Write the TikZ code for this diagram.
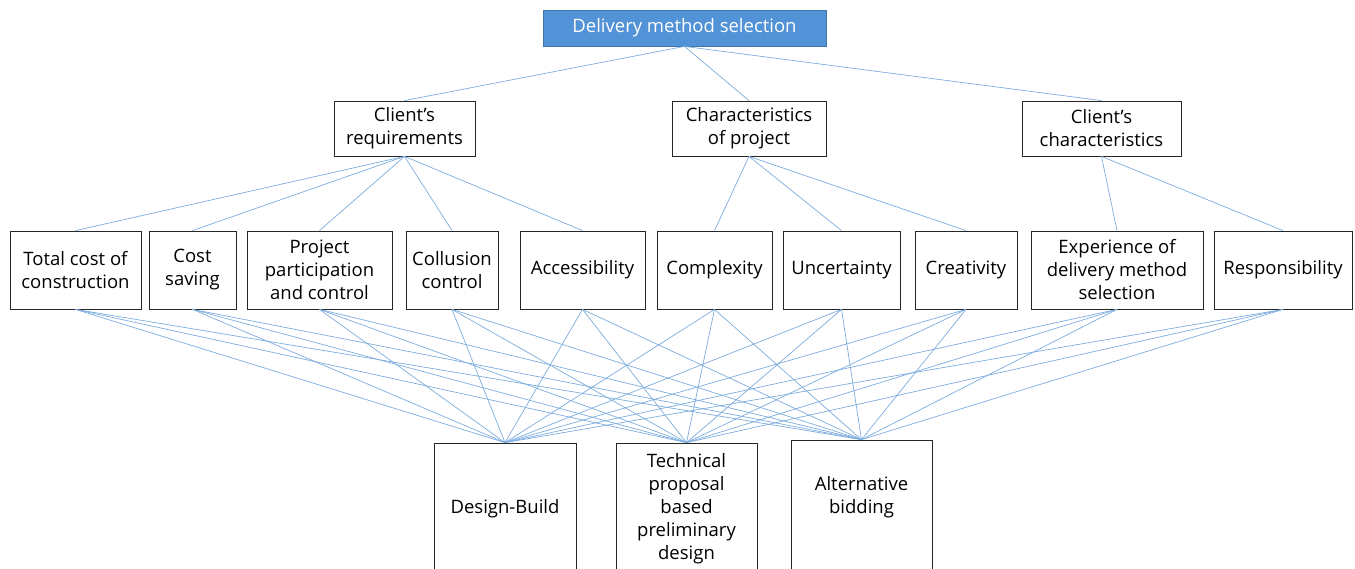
\documentclass[tikz,border=0pt]{standalone}
\usepackage{fontspec}
\setmainfont{Open Sans}
\usepackage{tikz}

\definecolor{linkblue}{RGB}{125,172,222}
\definecolor{headblue}{RGB}{82,146,214}

\begin{document}
\begin{tikzpicture}[x=1pt, y=-1pt,
    box/.style={draw=black!85, line width=0.8pt, align=center, inner sep=0pt,
      font=\fontsize{18.5}{23}\selectfont},
    link/.style={draw=linkblue, line width=0.7pt}]
    \useasboundingbox (0,0) rectangle (1355,569);
    \clip (0,0) rectangle (1355,569);

    % goal
    \node[box, draw=headblue!80!black, fill=headblue, text=white, minimum width=283, minimum height=36] (goal) at (684.5,28) {Delivery method selection};

    % criteria
    \node[box, minimum width=141, minimum height=55] (req) at (404.5,128.5) {Client’s\\requirements};
    \node[box, minimum width=154, minimum height=55] (proj) at (749,128.5) {Characteristics\\of project};
    \node[box, minimum width=159, minimum height=55] (chr) at (1101.5,128.5) {Client’s\\characteristics};

    % sub-criteria
    \node[box, minimum width=131, minimum height=78] (tc) at (75.5,270) {Total cost of\\construction};
    \node[box, minimum width=87, minimum height=78] (cs) at (192.5,270) {Cost\\saving};
    \node[box, minimum width=145, minimum height=78] (pp) at (319.5,270) {Project\\participation\\and control};
    \node[box, minimum width=92, minimum height=78] (co) at (452,270) {Collusion\\control};
    \node[box, minimum width=125, minimum height=78] (ac) at (582.5,270) {Accessibility};
    \node[box, minimum width=115, minimum height=78] (cx) at (714.5,270) {Complexity};
    \node[box, minimum width=117, minimum height=78] (un) at (841.5,270) {Uncertainty};
    \node[box, minimum width=102, minimum height=78] (cv) at (966,270) {Creativity};
    \node[box, minimum width=172, minimum height=78] (ex) at (1117,270) {Experience of\\delivery method\\selection};
    \node[box, minimum width=138, minimum height=78] (rs) at (1283,270) {Responsibility};

    % alternatives
    \node[box, minimum width=142, minimum height=132] (db) at (505,509) {Design-Build};
    \node[box, minimum width=141, minimum height=132] (tp) at (686.5,509) {Technical\\proposal\\based\\preliminary\\design};
    \node[box, minimum width=141, minimum height=138, text depth=28pt] (ab) at (861.5,509) {Alternative\\bidding};

    \foreach \c in {req,proj,chr}
      \draw[link] (goal.south) -- (\c.north);
    \foreach \s in {tc,cs,pp,co,ac}
      \draw[link] (req.south) -- (\s.north);
    \foreach \s in {cx,un,cv}
      \draw[link] (proj.south) -- (\s.north);
    \foreach \s in {ex,rs}
      \draw[link] (chr.south) -- (\s.north);

    \foreach \s in {tc,cs,pp,co,ac,cx,un,cv,ex,rs}
      \foreach \a in {db,tp,ab}
        \draw[link] (\s.south) -- (\a.north);
\end{tikzpicture}
\end{document}
